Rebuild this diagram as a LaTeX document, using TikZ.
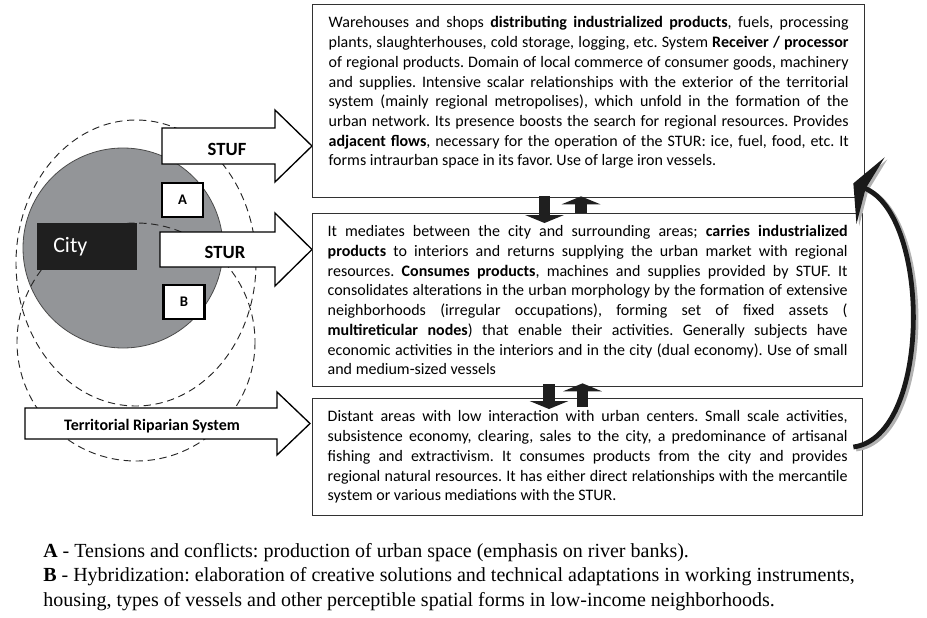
\documentclass[tikz,border=0pt]{standalone}
\usepackage{fontspec}
\setmainfont{Carlito}
\newfontfamily\notefont{Liberation Serif}
\usepackage{xcolor}
\usetikzlibrary{arrows.meta, positioning, calc}
\definecolor{citygray}{RGB}{147,149,152}
\definecolor{boxline}{RGB}{50,50,50}
\tolerance=10000
\hyphenpenalty=10000
\frenchspacing

\begin{document}
\begin{tikzpicture}[x=0.75pt, y=-0.75pt,
    system/.style={rectangle, draw=boxline, line width=1pt, anchor=north west, text width=390pt, align=justify, font=\fontsize{12}{14.8}\selectfont},
    blockarrow/.style={draw=black, line width=1pt, fill=white},
    tag/.style={rectangle, draw=black, line width=1.8pt, fill=white, minimum width=30.75pt, minimum height=25.5pt, font=\fontsize{11}{12}\selectfont\bfseries},
    zone/.style={draw=black!85, dash pattern=on 5.5pt off 3.5pt, line width=0.7pt},
    flow/.style={line width=8.5pt, draw=black!88, -{Triangle[length=6pt, width=29pt]}},
    feedback/.style={line width=3.6pt, -{Stealth[length=14pt, width=54pt, inset=4pt]}},
    note/.style={anchor=north west, inner sep=0pt, align=left, font=\notefont\fontsize{15}{18.4}\selectfont}
]
\useasboundingbox (0,0) rectangle (927,617);

\node[circle, fill=citygray, draw=black!70, line width=0.6pt, minimum size=150pt, inner sep=0pt] (urban) at (123,248) {};
\draw[zone] (136,263) ellipse [x radius=120, y radius=143];
\draw[zone] (136,342) circle [radius=119];

\node[fill=black!88, text=white, minimum width=75pt, minimum height=35.25pt, text width=51pt, inner xsep=12pt, align=left, anchor=north west, font=\fontsize{16.5}{18}\selectfont] (city) at (37,223) {City};

\draw[blockarrow] (162,128) -- (275,128) -- (275,110) -- (312,146) -- (275,182) -- (275,164) -- (162,164) -- cycle;
\draw[blockarrow] (160,232) -- (275,232) -- (275,213) -- (312,249.5) -- (275,286) -- (275,267) -- (160,267) -- cycle;
\draw[blockarrow] (25,408) -- (277,408) -- (277,392) -- (310,423.5) -- (277,455) -- (277,439) -- (25,439) -- cycle;
\node[font=\fontsize{14}{16}\selectfont\bfseries] (stuf) at (227,149) {STUF};
\node[font=\fontsize{14}{16}\selectfont\bfseries] (stur) at (225,252) {STUR};
\node[font=\fontsize{12}{14}\selectfont\bfseries] (riparian) at (152,426) {Territorial Riparian System};

\node[tag] (taga) at (182.5,200) {A};
\node[tag] (tagb) at (184,302) {B};

\node[system, minimum width=414pt, minimum height=144.75pt] (rectone) at (312,4) {Warehouses and shops \textbf{distributing industrialized products}, fuels, processing\linebreak plants, slaughterhouses, cold storage, logging, etc. System \textbf{Receiver / processor}\linebreak of regional products. Domain of local commerce of consumer goods, machinery\linebreak and supplies. Intensive scalar relationships with the exterior of the territorial\linebreak system (mainly regional metropolises), which unfold in the formation of the\linebreak urban network. Its presence boosts the search for regional resources. Provides\linebreak \textbf{adjacent flows}, necessary for the operation of the STUR: ice, fuel, food, etc. It\linebreak forms intraurban space in its favor. Use of large iron vessels.\\\mbox{}};
\node[system, minimum width=412.5pt, minimum height=129.75pt] (rectwo) at (312,213) {It mediates between the city and surrounding areas; \textbf{carries industrialized}\linebreak \textbf{products} to interiors and returns supplying the urban market with regional\linebreak resources. \textbf{Consumes products}, machines and supplies provided by STUF. It\linebreak consolidates alterations in the urban morphology by the formation of extensive\linebreak neighborhoods (irregular occupations), forming set of fixed assets (\linebreak \textbf{multireticular nodes}) that enable their activities. Generally subjects have\linebreak economic activities in the interiors and in the city (dual economy). Use of small\linebreak and medium-sized vessels};
\node[system, minimum width=412.5pt, minimum height=87.75pt] (rectthree) at (312,398) {Distant areas with low interaction with urban centers. Small scale activities,\linebreak subsistence economy, clearing, sales to the city, a predominance of artisanal\linebreak fishing and extractivism. It consumes products from the city and provides\linebreak regional natural resources. It has either direct relationships with the mercantile\linebreak system or various mediations with the STUR.};

\draw[flow] ($(rectone.south west)+(232.5,-2)$) -- ($(rectwo.north west)+(232.5,10)$);
\draw[flow] ($(rectwo.north west)+(269,0)$) -- ($(rectone.south west)+(269,-2)$);
\draw[flow] ($(rectwo.south west)+(237,-3)$) -- ($(rectthree.north west)+(237,11)$);
\draw[flow] ($(rectthree.north west)+(270.5,9)$) -- ($(rectwo.south west)+(270.5,-4)$);

\coordinate (loopfrom) at ($(rectthree.north east)+(-10,49)$);
\coordinate (loopto) at ($(rectone.south east)+(-12,-15)$);
\draw[feedback, gray!60, transform canvas={shift={(2pt,-1.5pt)}}] (loopfrom) .. controls +(78,-10) and +(78,33) .. (loopto);
\draw[feedback, black!90] (loopfrom) .. controls +(78,-10) and +(78,33) .. (loopto);

\node[note] (legend) at (43,543) {\textbf{A} - Tensions and conflicts: production of urban space (emphasis on river banks).\\
\textbf{B} - Hybridization: elaboration of creative solutions and technical adaptations in working instruments,\\
housing, types of vessels and other perceptible spatial forms in low-income neighborhoods.};
\end{tikzpicture}
\end{document}
